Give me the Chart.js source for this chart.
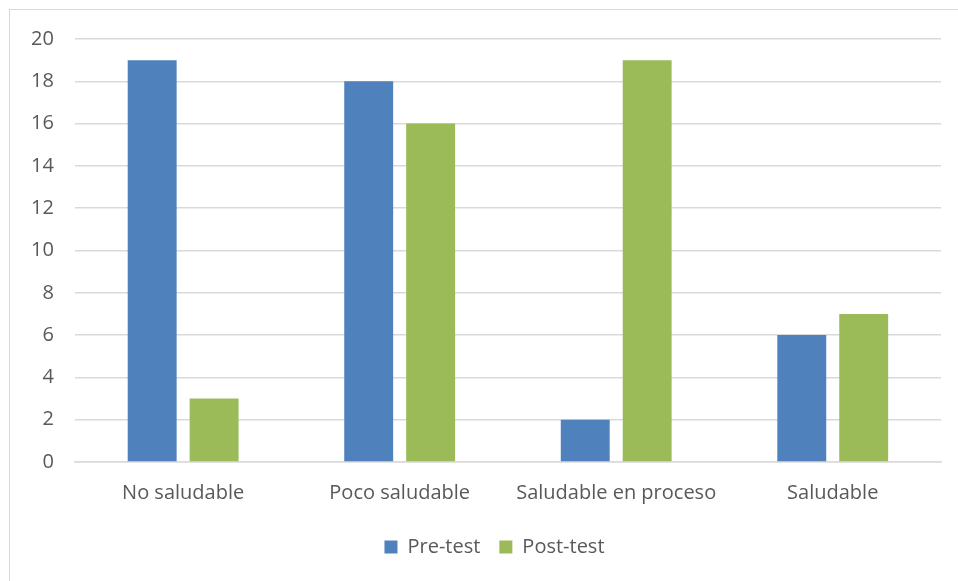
<!DOCTYPE html>
<html>
<head>
<meta charset="utf-8">
<script src="https://cdn.jsdelivr.net/npm/chart.js@4.4.0/dist/chart.umd.min.js"></script>
<style>
  html, body { margin: 0; padding: 0; background: #fff; }
  #wrap { position: relative; width: 958px; height: 581px; overflow: hidden; }
  #frame { position: absolute; left: 9px; top: 9px; width: 980px; height: 600px; border: 1px solid #d9d9d9; box-sizing: border-box; }
  #c { position: absolute; left: 0; top: 0; }
</style>
</head>
<body>
<div id="wrap">
  <div id="frame"></div>
  <canvas id="c" width="958" height="581"></canvas>
</div>
<script>
  const categories = ["No saludable", "Poco saludable", "Saludable en proceso", "Saludable"];
  const preTest = [19, 18, 2, 6];
  const postTest = [3, 16, 19, 7];
  const yTicks = [0, 2, 4, 6, 8, 10, 12, 14, 16, 18, 20];

  const fontFamily = "'Open Sans', 'Liberation Sans', sans-serif";
  const textColor = "#595959";

  const data = {
    labels: categories,
    datasets: [
      {
        label: "Pre-test",
        data: preTest,
        backgroundColor: "#4f81bd",
        categoryPercentage: 0.572,
        barPercentage: 0.79,
      },
      {
        label: "Post-test",
        data: postTest,
        backgroundColor: "#9bbb59",
        categoryPercentage: 0.572,
        barPercentage: 0.79,
      },
    ],
  };

  // nudge the legend, excel centres it a bit right of the canvas middle
  const legendNudge = {
    id: "legendNudge",
    afterLayout(chart) {
      const lg = chart.legend;
      lg.left += 19;
      lg.right += 19;
      lg.top -= 6;
      lg.bottom -= 6;
    },
  };

  const config = {
    type: "bar",
    data: data,
    plugins: [legendNudge],
    options: {
      responsive: false,
      animation: false,
      layout: {
        padding: { left: 10, right: 17, top: 39, bottom: 8 },
      },
      scales: {
        y: {
          min: 0,
          max: 20,
          afterBuildTicks: (axis) => {
            axis.ticks = yTicks.map((v) => ({ value: v }));
          },
          ticks: {
            color: textColor,
            font: { family: fontFamily, size: 20 },
            padding: 21,
          },
          grid: {
            color: "#d9d9d9",
            lineWidth: 1.5,
            drawTicks: false,
          },
          border: { display: false },
        },
        x: {
          ticks: {
            color: textColor,
            font: { family: fontFamily, size: 20 },
            padding: 19,
          },
          grid: { display: false, drawTicks: false },
          border: { color: "#d9d9d9", width: 1.5 },
        },
      },
      plugins: {
        legend: {
          position: "bottom",
          labels: {
            color: textColor,
            font: { family: fontFamily, size: 20 },
            boxWidth: 13,
            boxHeight: 13,
            padding: 19,
          },
        },
        tooltip: { enabled: false },
      },
    },
  };

  new Chart(document.getElementById("c"), config);
</script>
</body>
</html>
